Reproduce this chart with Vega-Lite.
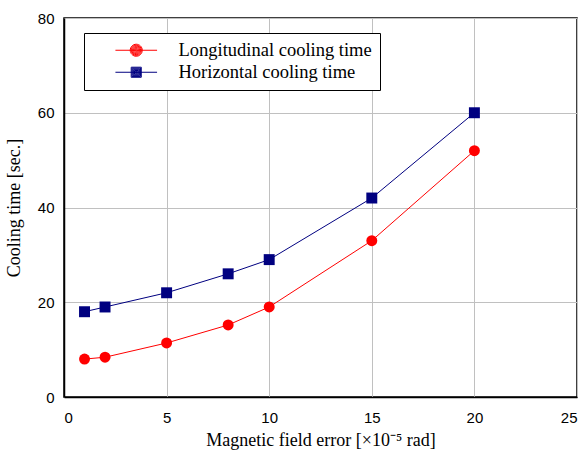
{
  "$schema": "https://vega.github.io/schema/vega-lite/v6.json",
  "autosize": {"type": "none"},
  "width": 513,
  "height": 379,
  "padding": {"left": 64, "top": 18, "right": 7, "bottom": 59},
  "background": "white",
  "config": {
    "view": {"stroke": "black", "strokeWidth": 1.5},
    "axis": {
      "grid": true,
      "gridColor": "#c0c0c0",
      "gridWidth": 1,
      "domainColor": "black",
      "domainWidth": 1.5,
      "ticks": false,
      "labelFont": "Liberation Sans",
      "labelFontSize": 15,
      "labelColor": "black",
      "titleFont": "Liberation Serif",
      "titleFontSize": 18,
      "titleFontWeight": "normal",
      "titleColor": "black"
    },
    "legend": {
      "orient": "none",
      "legendX": 20,
      "legendY": 15,
      "strokeColor": "black",
      "fillColor": "white",
      "padding": 8,
      "symbolOffset": 35,
      "labelOffset": 33,
      "labelFont": "Liberation Serif",
      "labelFontSize": 18.5,
      "labelColor": "black",
      "labelLimit": 400,
      "rowPadding": 3,
      "symbolSize": 120,
      "symbolOpacity": 1,
      "symbolStrokeWidth": 1
    }
  },
  "resolve": {"scale": {"color": "independent", "shape": "independent"}, "legend": {"color": "independent", "shape": "independent"}},
  "data": {
    "values": [
      {"x": 1, "y": 8, "series": "Longitudinal cooling time"},
      {"x": 2, "y": 8.4, "series": "Longitudinal cooling time"},
      {"x": 5, "y": 11.4, "series": "Longitudinal cooling time"},
      {"x": 8, "y": 15.2, "series": "Longitudinal cooling time"},
      {"x": 10, "y": 19, "series": "Longitudinal cooling time"},
      {"x": 15, "y": 33, "series": "Longitudinal cooling time"},
      {"x": 20, "y": 52, "series": "Longitudinal cooling time"},
      {"x": 1, "y": 18, "series": "Horizontal cooling time"},
      {"x": 2, "y": 19, "series": "Horizontal cooling time"},
      {"x": 5, "y": 22, "series": "Horizontal cooling time"},
      {"x": 8, "y": 26, "series": "Horizontal cooling time"},
      {"x": 10, "y": 29, "series": "Horizontal cooling time"},
      {"x": 15, "y": 42, "series": "Horizontal cooling time"},
      {"x": 20, "y": 60, "series": "Horizontal cooling time"}
    ]
  },
  "encoding": {
    "x": {
      "field": "x", "type": "quantitative",
      "scale": {"domain": [0, 25], "nice": false},
      "axis": {"values": [0, 5, 10, 15, 20, 25], "title": "Magnetic field error [×10⁻⁵ rad]", "labelPadding": 13, "titlePadding": 6}
    },
    "y": {
      "field": "y", "type": "quantitative",
      "scale": {"domain": [0, 80], "nice": false},
      "axis": {"values": [0, 20, 40, 60, 80], "title": "Cooling time [sec.]", "labelPadding": 10, "titlePadding": 14}
    }
  },
  "layer": [
    {
      "mark": {"type": "line", "strokeWidth": 1},
      "encoding": {
        "color": {
          "field": "series", "type": "nominal",
          "scale": {"domain": ["Longitudinal cooling time", "Horizontal cooling time"], "range": ["#ff0000", "#000080"]},
          "legend": null
        }
      }
    },
    {
      "mark": {"type": "point", "filled": true, "opacity": 1, "size": 120},
      "encoding": {
        "color": {
          "field": "series", "type": "nominal",
          "scale": {"domain": ["Longitudinal cooling time", "Horizontal cooling time"], "range": ["#ff0000", "#000080"]},
          "legend": null
        },
        "shape": {
          "field": "series", "type": "nominal",
          "scale": {"domain": ["Longitudinal cooling time", "Horizontal cooling time"], "range": ["circle", "square"]},
          "legend": null
        }
      }
    },
    {
      "transform": [{"filter": "false"}],
      "mark": {"type": "point", "filled": false, "opacity": 1, "size": 120, "strokeWidth": 1},
      "encoding": {
        "color": {
          "field": "series", "type": "nominal",
          "scale": {"domain": ["Longitudinal cooling time", "Horizontal cooling time"], "range": ["#ff0000", "#000080"]},
          "legend": {"title": null, "labelExpr": "datum.label + '\u00a0\u00a0\u00a0\u00a0\u00a0\u00a0'"}
        },
        "shape": {
          "field": "series", "type": "nominal",
          "scale": {"domain": ["Longitudinal cooling time", "Horizontal cooling time"], "range": [
            "M-3.8,0L3.8,0M-1.1,0A1.1,1.1,0,1,0,1.1,0A1.1,1.1,0,1,0,-1.1,0M-0.95,0A0.95,0.95,0,1,0,0.95,0A0.95,0.95,0,1,0,-0.95,0M-0.8,0A0.8,0.8,0,1,0,0.8,0A0.8,0.8,0,1,0,-0.8,0M-0.65,0A0.65,0.65,0,1,0,0.65,0A0.65,0.65,0,1,0,-0.65,0M-0.5,0A0.5,0.5,0,1,0,0.5,0A0.5,0.5,0,1,0,-0.5,0M-0.35,0A0.35,0.35,0,1,0,0.35,0A0.35,0.35,0,1,0,-0.35,0M-0.2,0A0.2,0.2,0,1,0,0.2,0A0.2,0.2,0,1,0,-0.2,0",
            "M-3.8,0L3.8,0M-0.92,-0.92L0.92,-0.92L0.92,0.92L-0.92,0.92ZM-0.77,-0.77L0.77,-0.77L0.77,0.77L-0.77,0.77ZM-0.62,-0.62L0.62,-0.62L0.62,0.62L-0.62,0.62ZM-0.47,-0.47L0.47,-0.47L0.47,0.47L-0.47,0.47ZM-0.32,-0.32L0.32,-0.32L0.32,0.32L-0.32,0.32ZM-0.17,-0.17L0.17,-0.17L0.17,0.17L-0.17,0.17ZM-0.05,-0.05L0.05,-0.05L0.05,0.05L-0.05,0.05Z"
          ]},
          "legend": {"title": null, "labelExpr": "datum.label + '\u00a0\u00a0\u00a0\u00a0\u00a0\u00a0'"}
        }
      }
    }
  ]
}
